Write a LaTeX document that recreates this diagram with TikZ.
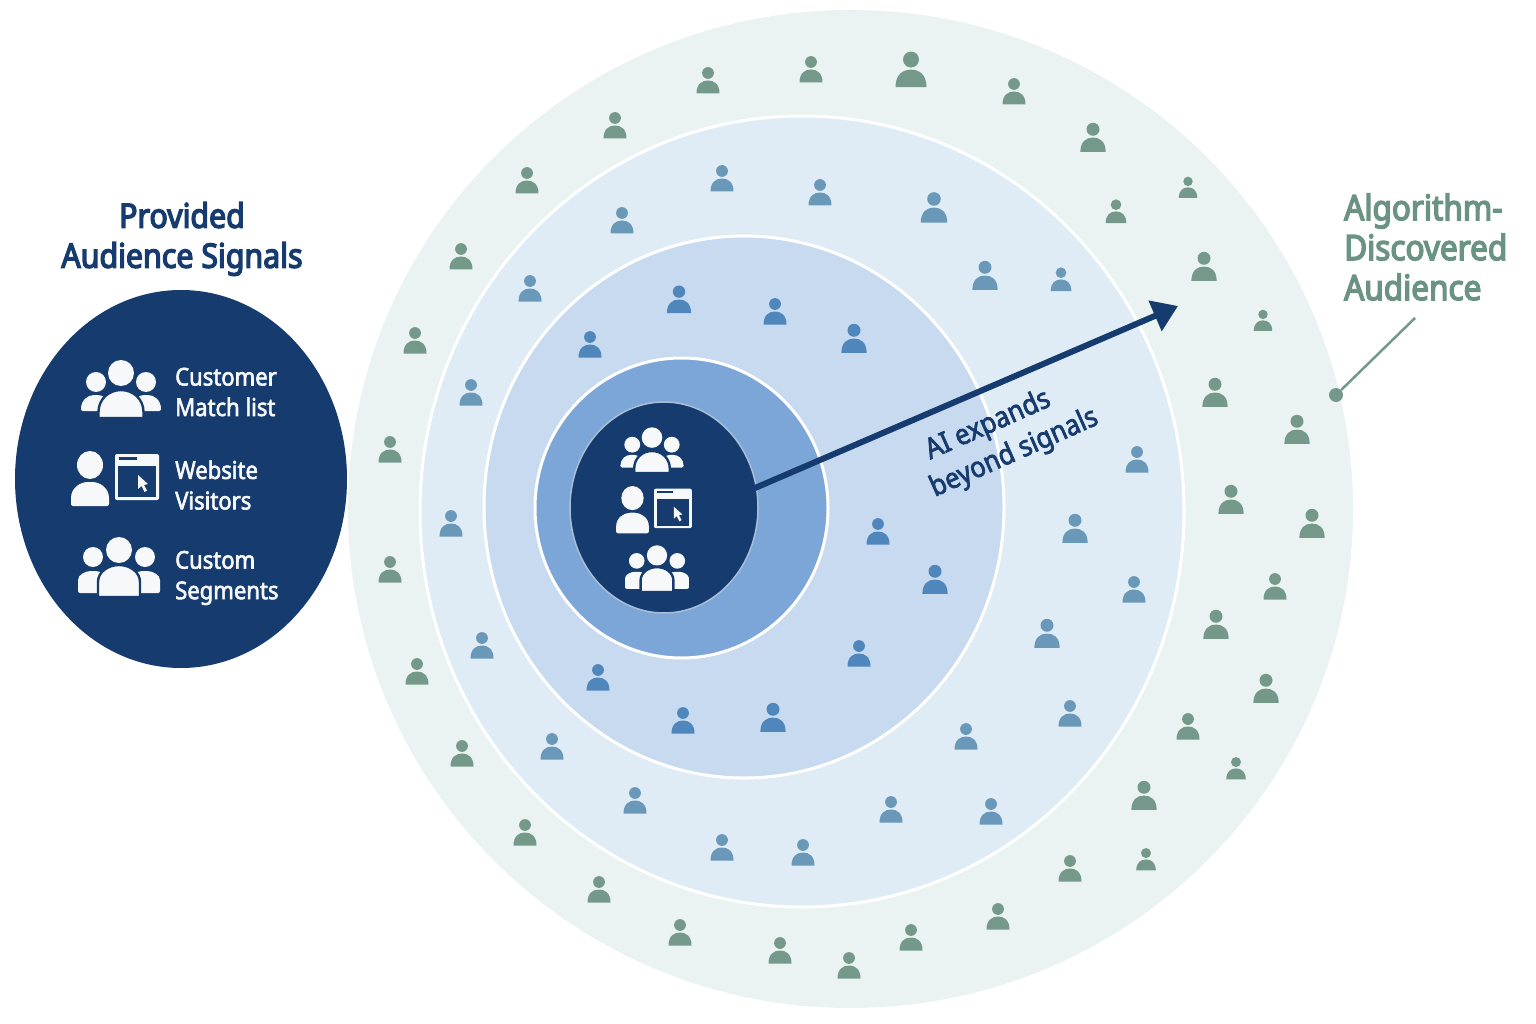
\documentclass[tikz,border=0pt]{standalone}
\usepackage{fontspec}
\newfontfamily\labelfont[FakeStretch=0.9,FakeBold=2.5]{Noto Sans}
\newfontfamily\titlefont[FakeStretch=0.9,FakeBold=4]{Noto Sans}
\setmainfont[FakeStretch=0.86]{Noto Sans}
\usetikzlibrary{shapes.geometric,arrows.meta}
\definecolor{navy}{HTML}{163B6E}
\definecolor{ringa}{HTML}{EAF3F1}
\definecolor{ringb}{HTML}{DFECF6}
\definecolor{ringc}{HTML}{C8DAEF}
\definecolor{ringd}{HTML}{7DA6D8}
\definecolor{coreedge}{HTML}{A9BFD6}
\definecolor{sage}{HTML}{74998B}
\definecolor{sagetext}{HTML}{6B9384}
\definecolor{steel}{HTML}{6A98B8}
\definecolor{midblue}{HTML}{4F86BC}
\definecolor{paper}{HTML}{F6F8F9}
\tikzset{
  x=1pt,y=-1pt,
  disc/.style={ellipse,inner sep=0pt,minimum width=#1},
  ringedge/.style={draw=white,line width=3pt},
  person/.pic={
    \fill (0,-7) circle[radius=5.9];
    \fill (-11.5,13.5) .. controls (-11.5,4) and (-6,0.5) .. (0,0.5) .. controls (6,0.5) and (11.5,4) .. (11.5,13.5) -- cycle;
  },
  groupa/.pic={
    \fill[paper] (-25,-8) circle[radius=10];
    \fill[paper] (25,-8) circle[radius=10];
    \fill[paper,rounded corners=2pt] (-40,21) .. controls (-40,10) and (-33,5) .. (-25,5) .. controls (-18,5) and (-12,9) .. (-12,21) -- cycle;
    \fill[paper,rounded corners=2pt] (40,21) .. controls (40,10) and (33,5) .. (25,5) .. controls (18,5) and (12,9) .. (12,21) -- cycle;
    \fill[paper] (0,-17) circle[radius=13];
    \path[fill=paper,draw=navy,line width=2.4pt] (-22.5,28) -- (-22.5,22) .. controls (-22.5,9) and (-12,0) .. (0,0) .. controls (12,0) and (22.5,9) .. (22.5,22) -- (22.5,28) -- cycle;
  },
  groupb/.pic={
    \fill[paper] (-26,-13) circle[radius=10];
    \fill[paper] (26,-13) circle[radius=10];
    \fill[paper,rounded corners=2pt] (-41,23) -- (-41,12) .. controls (-41,5) and (-34,1) .. (-26,1) .. controls (-18,1) and (-12,5) .. (-12,12) -- (-12,23) -- cycle;
    \fill[paper,rounded corners=2pt] (41,23) -- (41,12) .. controls (41,5) and (34,1) .. (26,1) .. controls (18,1) and (12,5) .. (12,12) -- (12,23) -- cycle;
    \fill[paper] (0,-20) circle[radius=13];
    \path[fill=paper,draw=navy,line width=2.4pt] (-21,27) -- (-21,12) .. controls (-21,2) and (-11,-5) .. (0,-5) .. controls (11,-5) and (21,2) .. (21,12) -- (21,27) -- cycle;
  },
  sitevisit/.pic={
    \fill[paper] (-25,-15) ellipse[x radius=13,y radius=14];
    \fill[paper,rounded corners=2pt] (-44,26) -- (-44,20) .. controls (-44,8) and (-35,2) .. (-25,2) .. controls (-15,2) and (-6,8) .. (-6,20) -- (-6,26) -- cycle;
    \fill[paper,rounded corners=2pt] (0,-26) rectangle (44,20);
    \fill[navy] (3,-14) rectangle (41,17);
    \fill[navy] (4,-23) rectangle (22,-20.5);
    \fill[paper] (23,-5) -- (23,9) -- (26.5,6) -- (29.5,12) -- (32,10.5) -- (29,5) -- (33,4) -- cycle;
  }
}
\begin{document}
\begin{tikzpicture}
\useasboundingbox (0,0) rectangle (1536,1024);
% nested audience rings
\node[disc=1005pt,minimum height=998pt,fill=ringa] (outer) at (850.5,509) {};
\node[disc=764pt,minimum height=791pt,fill=ringb,ringedge] (expanded) at (802,511.5) {};
\node[disc=520pt,minimum height=542pt,fill=ringc,ringedge] (similar) at (744,507) {};
\node[disc=293pt,minimum height=300pt,fill=ringd,ringedge] (near) at (681.5,508) {};
\node[disc=188pt,minimum height=211pt,fill=navy,draw=coreedge,line width=1.5pt] (core) at (664,507.5) {};
% provided signals disc
\node[disc=332pt,minimum height=378pt,fill=navy] (signals) at (181,479) {};
% outer people
\foreach \x/\y/\s in {708/80/1,811/69/1,911/69/1.35,1014/91/1,1093/137/1.1,1188/187/.8,1116/211/.9,1204/266/1.1,1263/320/.8,1215/392/1.1,1297/429/1.1,1231/499/1.1,1312/523/1.1,1275/586/1,1216/624/1.1,1266/688/1.1,1188/726/1,1236/768/.85,1144/795/1.1,1146/859/.85,1070/868/1,998/916/1,911/937/1,849/965/1,780/950/1,680/932/1,599/889/1,525/832/1,462/753/1,417/671/1,390/569/1,390/449/1,415/340/1,461/256/1,527/180/1,615/125/1}
  \pic[fill=sage,transform shape,scale=\s] at (\x,\y) {person};
% expanded people
\foreach \x/\y/\s in {722/178/1,820/192/1,934/207/1.15,622/220/1,530/288/1,985/275/1.1,1061/279/.9,471/392/1,1137/459/1,451/523/1,1075/528/1.1,1134/589/1,1047/633/1.1,482/645/1,1070/713/1,966/736/1,552/746/1,635/800/1,891/809/1,991/811/1,722/847/1,803/852/1}
  \pic[fill=steel,transform shape,scale=\s] at (\x,\y) {person};
% similar people
\foreach \x/\y/\s in {679/299/1.05,775/311/1,590/344/1,854/338/1.1,878/531/1,935/579/1.1,859/653/1,598/677/1,683/720/1,773/717/1.1}
  \pic[fill=midblue,transform shape,scale=\s] at (\x,\y) {person};
% left disc icons
\pic at (121,390) {groupa};
\pic at (115,480) {sitevisit};
\pic at (119,570) {groupb};
% core icons
\pic[transform shape,scale=.79] at (652,451) {groupa};
\pic[transform shape,scale=.86] at (654,511) {sitevisit};
\pic[transform shape,scale=.78] at (657,571) {groupb};
% labels
\node[align=center,text=navy,font=\titlefont\fontsize{33.7}{40}\selectfont] (title) at (182,239) {Provided\\Audience Signals};
\node[anchor=west,align=left,text=paper,inner sep=0pt,font=\labelfont\fontsize{24.5}{30.5}\selectfont] (lista) at (175,392) {Customer\\Match list};
\node[anchor=west,align=left,text=paper,inner sep=0pt,font=\labelfont\fontsize{24.5}{30.5}\selectfont] (listb) at (175,485) {Website\\Visitors};
\node[anchor=west,align=left,text=paper,inner sep=0pt,font=\labelfont\fontsize{24.5}{30.5}\selectfont] (listc) at (175,578) {Custom\\Segments};
\node[anchor=west,align=left,text=sagetext,inner sep=0pt,font=\titlefont\fontsize{35}{40}\selectfont] (found) at (1344,247) {Algorithm-\\Discovered\\Audience};
\node[rotate=24,align=left,text=navy,font=\labelfont\fontsize{28.5}{36}\selectfont] (ai) at (1007,437) {\hspace*{11pt}AI expands\\beyond signals};
% connectors
\coordinate (arrowstart) at (755,488);
\coordinate (arrowtip) at (1178,306);
\draw[navy,line width=6pt,-{Triangle[length=25pt,width=32pt]}] (arrowstart) -- (arrowtip);
\coordinate (leaderstart) at (1415,318);
\node[circle,fill=sage,minimum size=14pt,inner sep=0pt] (dot) at (1336,395) {};
\draw[sage,line width=2.5pt] (leaderstart) -- (dot);
\end{tikzpicture}
\end{document}
